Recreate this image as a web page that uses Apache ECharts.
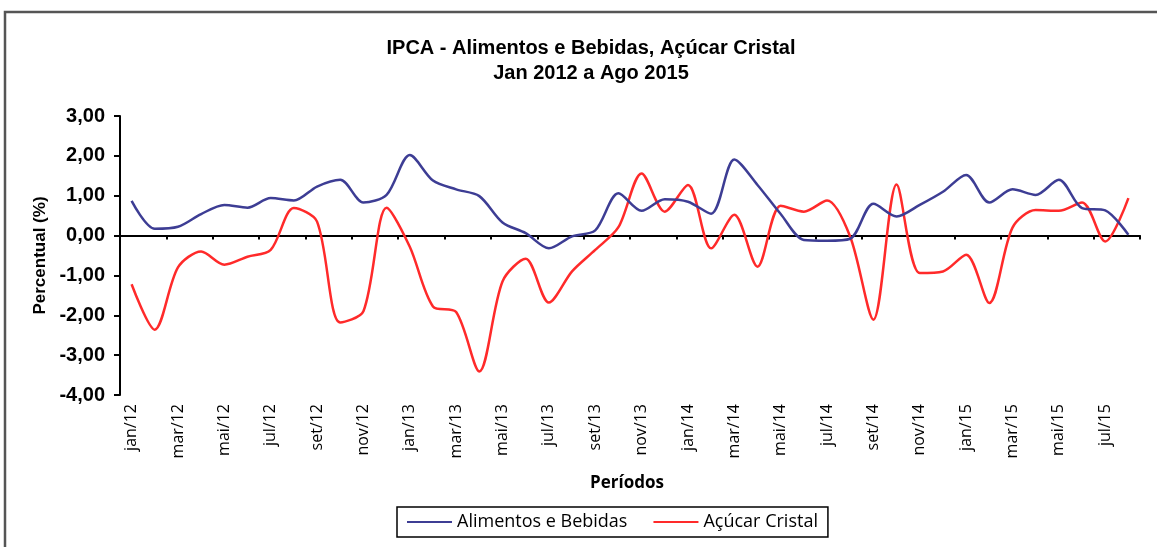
<!DOCTYPE html>
<html>
<head>
<meta charset="utf-8">
<title>IPCA - Alimentos e Bebidas, Açúcar Cristal</title>
<script src="https://cdn.jsdelivr.net/npm/echarts@6/dist/echarts.min.js"></script>
<style>
  html, body { margin: 0; padding: 0; background: #fff; }
  #chart { width: 1157px; height: 547px; }
</style>
</head>
<body>
<div id="chart"></div>
<script>
// Monthly periods, Jan 2012 to Aug 2015
const periodos = [
  'jan/12','fev/12','mar/12','abr/12','mai/12','jun/12','jul/12','ago/12','set/12','out/12','nov/12','dez/12',
  'jan/13','fev/13','mar/13','abr/13','mai/13','jun/13','jul/13','ago/13','set/13','out/13','nov/13','dez/13',
  'jan/14','fev/14','mar/14','abr/14','mai/14','jun/14','jul/14','ago/14','set/14','out/14','nov/14','dez/14',
  'jan/15','fev/15','mar/15','abr/15','mai/15','jun/15','jul/15','ago/15'
];

// Monthly IPCA change (%) - Alimentos e Bebidas
const alimentosBebidas = [
  0.87, 0.17, 0.22, 0.54, 0.77, 0.70, 0.94, 0.88, 1.23, 1.40, 0.83, 1.02,
  2.02, 1.38, 1.16, 0.99, 0.33, 0.06, -0.32, -0.02, 0.13, 1.06, 0.62, 0.91,
  0.85, 0.55, 1.91, 1.27, 0.54, -0.11, -0.13, -0.08, 0.80, 0.48, 0.77, 1.10,
  1.52, 0.83, 1.16, 1.02, 1.40, 0.69, 0.63, 0.02
];

// Monthly IPCA change (%) - Açúcar Cristal
const acucarCristal = [
  -1.22, -2.36, -0.80, -0.40, -0.73, -0.53, -0.36, 0.69, 0.35, -2.18, -1.90, 0.70,
  -0.28, -1.78, -1.92, -3.41, -1.15, -0.58, -1.68, -0.90, -0.36, 0.21, 1.56, 0.60,
  1.27, -0.32, 0.52, -0.78, 0.75, 0.60, 0.88, -0.03, -2.11, 1.28, -0.94, -0.90,
  -0.48, -1.69, 0.20, 0.64, 0.62, 0.83, -0.15, 0.94
];

const nomeSerieA = 'Alimentos e Bebidas';
const nomeSerieB = 'Açúcar Cristal';

const chart = echarts.init(document.getElementById('chart'), null, { renderer: 'canvas' });

const fmt = v => v.toFixed(2).replace('.', ',');

chart.setOption({
  animation: false,
  backgroundColor: '#ffffff',
  graphic: [
    {
      type: 'rect',
      shape: { x: 5, y: 12, width: 1300, height: 700 },
      style: { fill: 'none', stroke: '#555555', lineWidth: 2.5 },
      silent: true
    },
    {
      type: 'text',
      x: 591, y: 36,
      style: {
        text: 'IPCA - Alimentos e Bebidas, Açúcar Cristal\nJan 2012 a Ago 2015',
        fontFamily: 'Liberation Sans, Arial, sans-serif',
        fontWeight: 'bold',
        fontSize: 20,
        lineHeight: 25,
        align: 'center',
        verticalAlign: 'top',
        fill: '#000'
      }
    },
    {
      type: 'text',
      x: 627, y: 483,
      style: {
        text: 'Períodos',
        fontFamily: 'Open Sans, sans-serif',
        fontWeight: 'bold',
        fontSize: 17,
        align: 'center',
        verticalAlign: 'middle',
        fill: '#000'
      }
    }
  ],
  legend: {
    data: [nomeSerieA, nomeSerieB],
    left: 397,
    top: 507,
    itemGap: 26,
    itemWidth: 45,
    itemHeight: 2,
    icon: 'rect',
    padding: [6, 10, 6, 10],
    borderColor: '#000',
    borderWidth: 1.5,
    textStyle: { fontFamily: 'Open Sans, sans-serif', fontSize: 18, color: '#000' }
  },
  grid: { left: 120, right: 17, top: 116, bottom: 152, containLabel: false },
  xAxis: [
    {
      type: 'category',
      data: periodos,
      boundaryGap: true,
      axisLine: { onZero: true, lineStyle: { color: '#000', width: 2 } },
      axisTick: { show: true, interval: 1, length: 4, lineStyle: { color: '#000', width: 2 } },
      axisLabel: { show: false },
      splitLine: { show: false }
    },
    {
      type: 'category',
      data: periodos,
      position: 'bottom',
      boundaryGap: true,
      axisLine: { show: false, onZero: false },
      axisTick: { show: false },
      axisLabel: {
        show: true,
        interval: 1,
        rotate: 90,
        margin: 9,
        fontFamily: 'Open Sans, sans-serif',
        fontSize: 16,
        color: '#000'
      },
      splitLine: { show: false }
    }
  ],
  yAxis: {
    type: 'value',
    min: -4,
    max: 3,
    interval: 1,
    name: 'Percentual (%)',
    nameLocation: 'middle',
    nameGap: 71,
    nameTextStyle: {
      fontFamily: 'Liberation Sans, Arial, sans-serif',
      fontWeight: 'bold',
      fontSize: 17,
      color: '#000'
    },
    axisLine: { show: true, lineStyle: { color: '#000', width: 2 } },
    axisTick: { show: true, length: 6, lineStyle: { color: '#000', width: 2 } },
    axisLabel: {
      formatter: fmt,
      margin: 15,
      fontFamily: 'Liberation Sans, Arial, sans-serif',
      fontWeight: 'bold',
      fontSize: 20,
      color: '#000'
    },
    splitLine: { show: false }
  },
  series: [
    {
      name: nomeSerieA,
      type: 'line',
      xAxisIndex: 0,
      data: alimentosBebidas,
      smooth: 0.3,
      showSymbol: false,
      symbol: 'none',
      lineStyle: { color: '#3d3d94', width: 2.5 },
      itemStyle: { color: '#3d3d94' },
      z: 3
    },
    {
      name: nomeSerieB,
      type: 'line',
      xAxisIndex: 0,
      data: acucarCristal,
      smooth: 0.3,
      showSymbol: false,
      symbol: 'none',
      lineStyle: { color: '#ff2a2a', width: 2.5 },
      itemStyle: { color: '#ff2a2a' },
      z: 2
    }
  ]
});
</script>
</body>
</html>
